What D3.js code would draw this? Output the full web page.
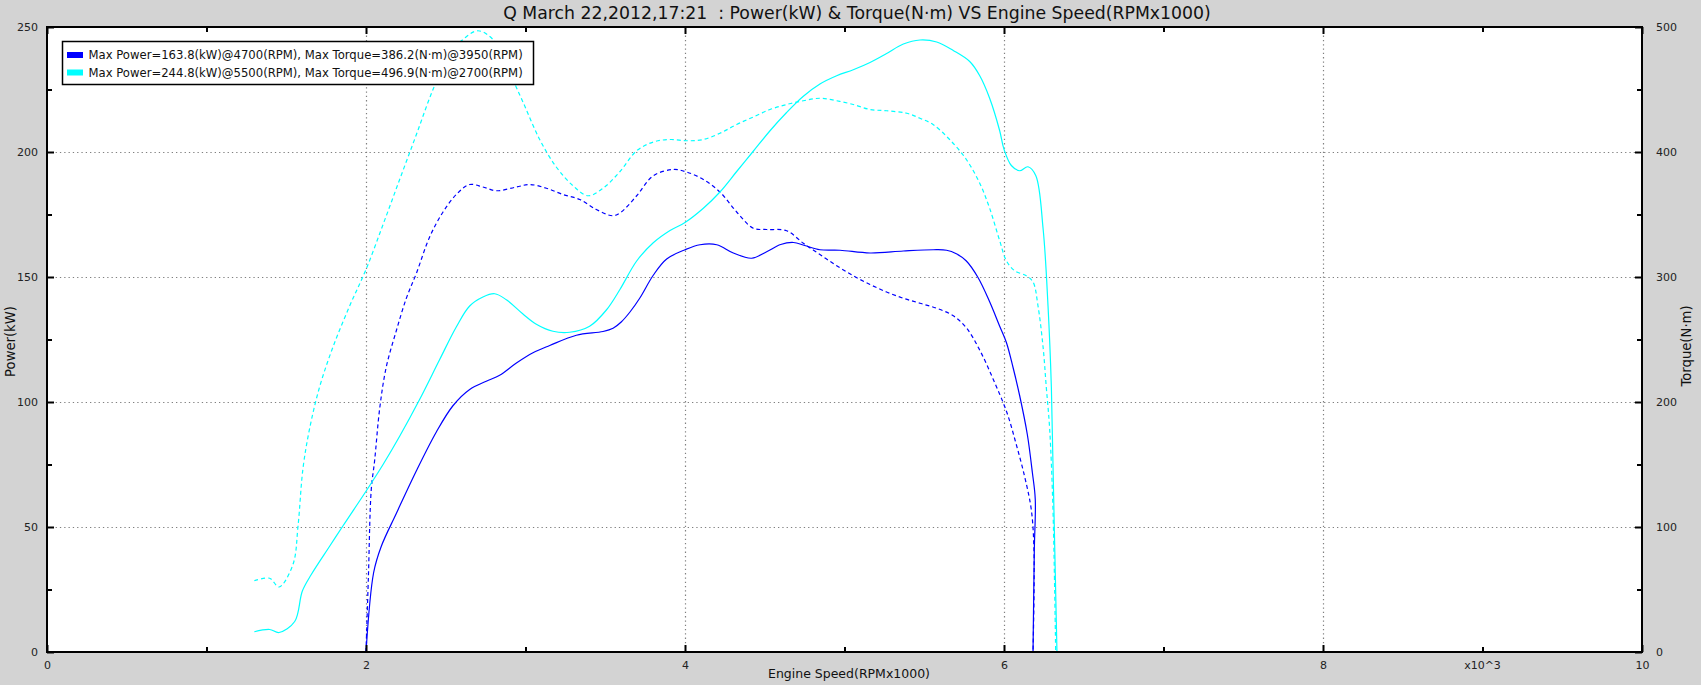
<!DOCTYPE html>
<html>
<head>
<meta charset="utf-8">
<script src="https://cdn.jsdelivr.net/npm/d3@7"></script>
<style>
  html, body { margin: 0; padding: 0; background: #d3d3d3; }
  svg { display: block; font-family: "DejaVu Sans", Verdana, sans-serif; }
  .pre { white-space: pre; }
</style>
</head>
<body>
<svg id="chart" width="1701" height="685"></svg>
<script>
// ---------------- DATA ----------------
const titleText = "Q March 22,2012,17:21  : Power(kW) & Torque(N\u00B7m) VS Engine Speed(RPMx1000)";
const xLabel = "Engine Speed(RPMx1000)";
const yLeftLabel = "Power(kW)";
const yRightLabel = "Torque(N\u00B7m)";
const xTickValues = [0, 2000, 4000, 6000, 8000, 10000];
const xTickLabels = ["0", "2", "4", "6", "8", "10"];
const xMinorTicks = [1000, 3000, 5000, 7000, 9000];
const xExponentLabel = "x10^3";
const xExponentAt = 9000;
const yLeftTicks = [0, 50, 100, 150, 200, 250];
const yLeftMinor = [25, 75, 125, 175, 225];
const yRightTicks = [0, 100, 200, 300, 400, 500];
const yRightMinor = [50, 150, 250, 350, 450];
const xGrid = [2000, 4000, 6000, 8000];
const yGrid = [50, 100, 150, 200];

const legendLabels = [
  "Max Power=163.8(kW)@4700(RPM), Max Torque=386.2(N\u00B7m)@3950(RPM)",
  "Max Power=244.8(kW)@5500(RPM), Max Torque=496.9(N\u00B7m)@2700(RPM)"
];
const seriesColors = ["#0000ff", "#00ffff"];

// Run 1 (blue) — power kW
const bluePowerRpm = [2000,2048,2096,2190,2316,2441,2545,2650,2754,2838,2943,3047,3152,3319,3486,3549,3600,3655,3718,3801,3885,4000,4094,4199,4303,4418,4512,4600,4680,4750,4846,4972,5160,5369,5557,5640,5701,5764,5837,5910,5973,6015,6056,6098,6146,6178,6196,6190,6182];
const bluePowerKw  = [0,31.8,42.3,55.4,72.5,88,98.5,105,108.3,110.7,115.6,119.7,122.6,126.7,128.2,129.5,132,136,141.7,150.7,157.2,160.9,162.9,162.9,159.6,157.5,160.1,163.0,163.8,162.6,160.9,160.7,159.6,160.4,160.9,160.7,159.3,156.4,149.8,140.1,130.3,123.8,114,102.6,87.1,71.7,61.1,40.7,0];
// Run 1 (blue) — torque N·m
const blueTorqueRpm = [2000,2015,2033,2054,2086,2127,2190,2253,2316,2399,2483,2566,2650,2733,2817,2943,3026,3131,3235,3340,3444,3549,3600,3697,3801,3927,4010,4115,4219,4324,4428,4512,4637,4742,4846,4951,5055,5160,5264,5369,5473,5578,5682,5766,5850,5933,6017,6077,6130,6171,6188,6182];
const blueTorqueNm  = [0,60,130,153,195,228,257,283,303,332,352,366,374,372,369,372,374,371,366,362,354,349,352,365,381,386,384,378,368,352,339,338,337,327,318,309,301,294,288,283,279,275,269,259,241,218,192,166,140,114,81,0];

// Run 2 (cyan) — power kW
const cyanPowerRpm = [1300,1396,1455,1553,1601,1657,1772,1856,2000,2107,2211,2336,2462,2566,2650,2733,2807,2880,2984,3068,3172,3277,3402,3507,3592,3697,3801,3906,4000,4115,4219,4324,4428,4533,4637,4742,4846,4951,5055,5160,5264,5369,5473,5578,5682,5785,5848,5910,5973,6000,6046,6098,6150,6199,6245,6276,6297,6313,6332];
const cyanPowerKw  = [8.1,9.0,7.8,12.2,24.4,31,42.3,50.5,64.3,75,86.3,101,117,130,138.4,142,143.3,140.9,135.2,131.1,128.3,127.9,130.3,136.8,145,156.4,163.7,168.6,171.8,177.5,184,192.2,200.3,208.5,215.8,222.3,227.2,230.5,232.9,235.8,239.4,243.2,244.8,244,240.6,236.2,230.5,221.5,208.5,201.1,194.6,192.5,194.1,190.6,169.4,138.4,105.9,57,0];
// Run 2 (cyan) — torque N·m
const cyanTorqueRpm = [1300,1396,1455,1542,1574,1605,1647,1709,1793,1898,2000,2107,2211,2316,2420,2525,2608,2702,2796,2880,2984,3089,3193,3298,3392,3486,3590,3697,3801,3906,4010,4115,4219,4324,4428,4533,4637,4742,4846,4951,5055,5160,5264,5390,5473,5555,5659,5764,5848,5910,5973,6015,6067,6140,6182,6213,6245,6265,6286,6307,6324];
const cyanTorqueNm  = [57,59,52,70,101,147,179,212,244,277,306,342,378,414,450,479,490,497,490,469,440,410,388,373,365,371,384,401,408,410,409,410,415,422,428,434,438,441,443,441,438,434,433,431,427,422,410,394,375,355,329,313,305,301,296,277,244,212,179,114,0];

// ---------------- LAYOUT ----------------
const L = 47, R = 1642, T = 27, B = 652;
const svg = d3.select("#chart");

const x = d3.scaleLinear().domain([0, 10000]).range([L, R]);
const yL = d3.scaleLinear().domain([0, 250]).range([B, T]);
const yR = d3.scaleLinear().domain([0, 500]).range([B, T]);

// plot background
svg.append("rect").attr("x", L).attr("y", T).attr("width", R - L).attr("height", B - T).attr("fill", "#ffffff");

// grid
const grid = svg.append("g").attr("stroke", "#808080").attr("stroke-width", 1.2).attr("stroke-dasharray", "1.3,3");
grid.selectAll("line.vx").data(xGrid).join("line")
  .attr("x1", d => Math.round(x(d)) + 0.5).attr("x2", d => Math.round(x(d)) + 0.5)
  .attr("y1", T).attr("y2", B);
grid.selectAll("line.hy").data(yGrid).join("line")
  .attr("x1", L).attr("x2", R)
  .attr("y1", d => Math.round(yL(d)) + 0.5).attr("y2", d => Math.round(yL(d)) + 0.5);

// curves
svg.append("clipPath").attr("id", "clip").append("rect")
  .attr("x", L).attr("y", T - 2).attr("width", R - L).attr("height", B - T + 2);
const curves = svg.append("g").attr("clip-path", "url(#clip)").attr("fill", "none").attr("stroke-width", 1.2);
function addLine(xs, ys, yScale, color, dashed) {
  const pts = xs.map((v, i) => [v, ys[i]]);
  curves.append("path").datum(pts)
    .attr("d", d3.line().x(d => x(d[0])).y(d => yScale(d[1])).curve(d3.curveCatmullRom.alpha(0.5)))
    .attr("stroke", color)
    .attr("stroke-dasharray", dashed ? "4,3" : null);
}
addLine(cyanTorqueRpm, cyanTorqueNm, yR, seriesColors[1], true);
addLine(blueTorqueRpm, blueTorqueNm, yR, seriesColors[0], true);
addLine(cyanPowerRpm, cyanPowerKw, yL, seriesColors[1], false);
addLine(bluePowerRpm, bluePowerKw, yL, seriesColors[0], false);

// axes (ticks inward)
const FS = 11;
const tickStyle = g => { g.select(".domain").remove(); g.selectAll(".tick line").attr("stroke", "#000").attr("stroke-width", 2); g.selectAll("text").attr("font-family", "DejaVu Sans").attr("font-size", FS).attr("fill", "#222"); };

svg.append("g").attr("transform", `translate(0,${B})`)
  .call(d3.axisBottom(x).tickValues(xTickValues).tickSize(-7).tickPadding(9).tickFormat((d, i) => xTickLabels[i]))
  .call(tickStyle);
svg.append("g").attr("transform", `translate(0,${B})`)
  .call(d3.axisBottom(x).tickValues(xMinorTicks).tickSize(-5).tickFormat(""))
  .call(tickStyle);
svg.append("g").attr("transform", `translate(0,${T})`)
  .call(d3.axisTop(x).tickValues(xTickValues).tickSize(-7).tickFormat(""))
  .call(tickStyle);
svg.append("g").attr("transform", `translate(0,${T})`)
  .call(d3.axisTop(x).tickValues(xMinorTicks).tickSize(-5).tickFormat(""))
  .call(tickStyle);
svg.append("g").attr("transform", `translate(${L},0)`)
  .call(d3.axisLeft(yL).tickValues(yLeftTicks).tickSize(-7).tickPadding(9).tickFormat(d3.format("d")))
  .call(tickStyle);
svg.append("g").attr("transform", `translate(${L},0)`)
  .call(d3.axisLeft(yL).tickValues(yLeftMinor).tickSize(-5).tickFormat(""))
  .call(tickStyle);
svg.append("g").attr("transform", `translate(${R},0)`)
  .call(d3.axisRight(yR).tickValues(yRightTicks).tickSize(-7).tickPadding(14).tickFormat(d3.format("d")))
  .call(tickStyle);
svg.append("g").attr("transform", `translate(${R},0)`)
  .call(d3.axisRight(yR).tickValues(yRightMinor).tickSize(-5).tickFormat(""))
  .call(tickStyle);

// exponent label
svg.append("text").attr("x", x(xExponentAt)).attr("y", B + 9).attr("dy", "0.71em")
  .attr("text-anchor", "middle").attr("font-size", FS).attr("fill", "#222").text(xExponentLabel);

// border
svg.append("rect").attr("x", L).attr("y", T).attr("width", R - L).attr("height", B - T)
  .attr("fill", "none").attr("stroke", "#000").attr("stroke-width", 2);

// title & axis labels
svg.append("text").attr("class", "pre").attr("x", 857).attr("y", 19).attr("text-anchor", "middle")
  .attr("font-size", 17.3).attr("fill", "#111").text(titleText);
svg.append("text").attr("x", 849).attr("y", 678).attr("text-anchor", "middle")
  .attr("font-size", 12.5).attr("fill", "#111").text(xLabel);
svg.append("text").attr("transform", `translate(15,${(T + B) / 2 + 2}) rotate(-90)`).attr("text-anchor", "middle")
  .attr("font-size", 13.2).attr("fill", "#111").text(yLeftLabel);
svg.append("text").attr("transform", `translate(1691,346) rotate(-90)`).attr("text-anchor", "middle")
  .attr("font-size", 13.2).attr("fill", "#111").text(yRightLabel);

// legend
const lg = svg.append("g");
lg.append("rect").attr("x", 62.5).attr("y", 41.5).attr("width", 471).attr("height", 43)
  .attr("fill", "#fff").attr("stroke", "#000").attr("stroke-width", 1.5);
legendLabels.forEach((t, i) => {
  const cy = 55 + i * 17.5;
  lg.append("rect").attr("x", 67).attr("y", cy - 3).attr("width", 16).attr("height", 6).attr("fill", seriesColors[i]);
  lg.append("text").attr("x", 88.5).attr("y", cy).attr("dy", "0.35em").attr("font-size", 11.65).attr("fill", "#111").text(t);
});
</script>
</body>
</html>
